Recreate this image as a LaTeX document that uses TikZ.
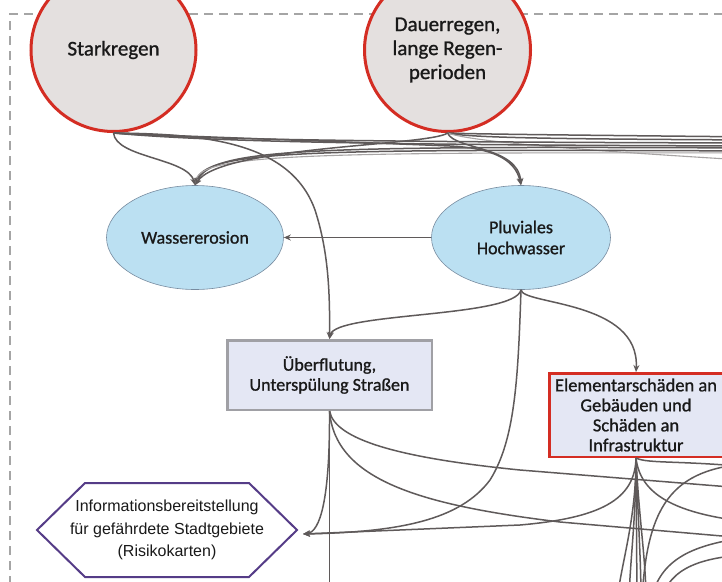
\documentclass[tikz,border=0pt]{standalone}
\usepackage{fontspec}
\setmainfont{Carlito}[FakeBold=1]
\newfontfamily\arialf{Liberation Sans}
\usetikzlibrary{shapes.geometric,arrows.meta}
\definecolor{redc}{RGB}{212,45,35}
\definecolor{raing}{RGB}{228,224,223}
\definecolor{bluef}{RGB}{187,224,242}
\definecolor{bluebd}{RGB}{120,140,160}
\definecolor{boxf}{RGB}{228,231,244}
\definecolor{boxbd}{RGB}{160,160,165}
\definecolor{purplec}{RGB}{85,60,135}
\definecolor{linec}{RGB}{95,90,90}
\definecolor{dashc}{RGB}{165,165,165}
\definecolor{txt}{RGB}{25,25,25}
\begin{document}
\begin{tikzpicture}[x=1pt,y=-1pt,
  rain/.style={ellipse, draw=redc, line width=3pt, fill=raing, inner sep=0pt, align=center, text=txt, font=\fontsize{21}{24}\selectfont},
  blueell/.style={ellipse, draw=bluebd, line width=0.6pt, fill=bluef, inner sep=0pt, align=center, text=txt, font=\fontsize{18}{21}\selectfont},
  graybox/.style={rectangle, draw=boxbd, line width=2.5pt, fill=boxf, inner sep=0pt, align=center, text=txt, font=\fontsize{18}{20}\selectfont},
  redbox/.style={rectangle, draw=redc, line width=2.5pt, fill=boxf, inner sep=0pt, align=center, text=txt, font=\fontsize{18.5}{20}\selectfont},
  hexbox/.style={draw=purplec, line width=2pt, fill=white},
  hextext/.style={align=center, text=txt, inner sep=0pt, font=\arialf\fontsize{16}{22.5}\selectfont},
  conn/.style={draw=linec, line width=1.5pt},
  faint/.style={draw=linec!55, line width=1.1pt},
  arr/.style={conn, -{Stealth[length=7pt,width=6pt]}},
  frame/.style={draw=dashc, line width=2pt, dash pattern=on 9pt off 6pt}
]
\useasboundingbox (0,0) rectangle (722,581);
\fill[white] (0,0) rectangle (722,581);
\clip (0,0) rectangle (722,581);
\draw[frame] (10,600) -- (10,14) -- (760,14);

% off-picture end points
\coordinate (r0) at (760,137);
\coordinate (r1) at (760,140);
\coordinate (r2) at (760,143);
\coordinate (r3) at (760,146);
\coordinate (r4) at (760,148);
\coordinate (r5) at (760,151);
\coordinate (r6) at (760,153);
\coordinate (r7) at (760,161);
\coordinate (r8) at (760,468);
\coordinate (r9) at (760,523);
\coordinate (r10) at (760,463);
\coordinate (r11) at (760,536);
\coordinate (r12) at (760,554);
\coordinate (r13) at (780,491);
\coordinate (r14) at (780,541);
\coordinate (b0) at (329.5,600);
\coordinate (b1) at (617,600);
\coordinate (b2) at (629,600);
\coordinate (b3) at (637,600);
\coordinate (b4) at (641,600);
\coordinate (b5) at (646,600);
\coordinate (b7) at (642,600);
\coordinate (b8) at (651,600);
\coordinate (b9) at (661,600);
\coordinate (hexR) at (303,534);

% nodes
\node[rain, minimum width=165pt, minimum height=163pt] (stark) at (113.5,50) {Starkregen};
\node[rain, minimum width=166pt, minimum height=163pt] (dauer) at (447.5,50) {Dauerregen,\\lange Regen-\\perioden};
\node[blueell, minimum width=177pt, minimum height=104pt] (wass) at (195,237.5) {Wassererosion};
\node[blueell, minimum width=179pt, minimum height=104pt] (pluv) at (521,237.5) {Pluviales\\Hochwasser};
\node[graybox, minimum width=204.5pt, minimum height=69.5pt] (ueber) at (329.5,375) {Überflutung,\\Unterspülung Straßen};
\node[redbox, minimum width=173.5pt, minimum height=83.5pt] (elem) at (636,415) {Elementarschäden an\\Gebäuden und\\Schäden an\\Infrastruktur};
\path[hexbox] (37,530) -- (85,483) -- (249,483) -- (297,530) -- (249,577) -- (85,577) -- cycle;
\node[hextext] (hex) at (167,530) {Informationsbereitstellung\\für gefährdete Stadtgebiete\\(Risikokarten)};

% top bundle
\draw[conn] (dauer.south) .. controls (470,134) and (560,135) .. (r0);
\draw[conn] (dauer.south) .. controls (470,138) and (560,139) .. (r1);
\draw[faint] (dauer.south) .. controls (470,141) and (560,149) .. (r7);
\draw[conn] (stark.south) .. controls (180,138) and (300,142) .. (r2);
\draw[conn] (stark.south) .. controls (190,140) and (320,145) .. (r3);
\draw[arr] (r4) .. controls (300,146) and (212,148) .. (wass.north);
\draw[arr] (r5) .. controls (300,149) and (205,150) .. (wass.north);
\draw[faint,-{Stealth[length=7pt,width=6pt]}] (r6) .. controls (300,152) and (200,154) .. (wass.north);
\draw[arr] (dauer.south) .. controls (430,146) and (220,146) .. (wass.north);
\draw[arr] (stark.south) .. controls (116,158) and (188,158) .. (wass.north);
\draw[arr] (stark.south) .. controls (200,134) and (290,140) .. (315,210) .. controls (328,250) and (330,290) .. (ueber.north);
\draw[arr] (stark.south) .. controls (200,137) and (380,143) .. (450,146) .. controls (490,148) and (515,158) .. (pluv.north);
\draw[arr] (dauer.south) .. controls (455,150) and (518,146) .. (pluv.north);

% middle
\draw[arr] (pluv.west) -- (wass.east);
\draw[arr] (pluv.south) .. controls (515,318) and (335,312) .. (ueber.north);
\draw[arr] (pluv.south) .. controls (522,305) and (640,300) .. (elem.north);
\draw[arr] (pluv.south) .. controls (518,380) and (515,440) .. (490,480) .. controls (460,520) and (400,532) .. (hexR);
\draw[arr] (ueber.south) .. controls (330,500) and (320,532) .. (hexR);
\draw[conn] (ueber.south) -- (b0);
\draw[conn] (ueber.south) .. controls (335,440) and (400,458) .. (520,470) -- (r13);
\draw[conn] (ueber.south) .. controls (335,480) and (420,505) .. (560,522) -- (r14);
\draw[arr] (elem.south) .. controls (635,500) and (600,518) .. (520,525) -- (hexR);

% bottom right
\draw[conn] (elem.south) .. controls (648,464) and (680,460) .. (r8);
\draw[conn] (elem.south) .. controls (640,492) and (670,515) .. (r9);
\draw[conn] (elem.south) .. controls (636,520) and (622,560) .. (b1);
\draw[conn] (elem.south) .. controls (636,520) and (630,560) .. (b2);
\draw[conn] (elem.south) -- (b3);
\draw[conn] (elem.south) .. controls (638,520) and (641,560) .. (b4);
\draw[conn] (elem.south) .. controls (639,520) and (646,560) .. (b5);
\draw[conn] (r10) .. controls (675,466) and (647,500) .. (b7);
\draw[conn] (r11) .. controls (690,543) and (660,560) .. (b8);
\draw[conn] (r12) .. controls (700,556) and (670,568) .. (b9);
\end{tikzpicture}
\end{document}
